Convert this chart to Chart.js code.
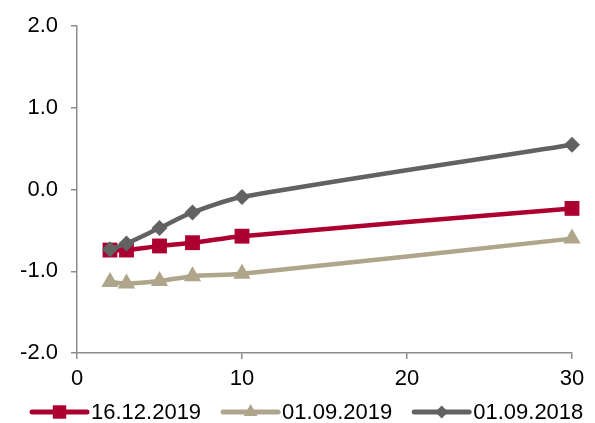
<!DOCTYPE html>
<html>
<head>
  <title>Curves</title>
  <script src="https://cdn.jsdelivr.net/npm/chart.js"></script>
  <style>
    body { margin: 0; background: #fff; }
    #wrap { width: 595px; height: 423px; }
  </style>
</head>
<body>
  <div id="wrap"><canvas id="chart" width="595" height="423"></canvas></div>

  <script>
    // maturities (x) and the three curves
    let maturities = [2, 3, 5, 7, 10, 30];
    let seriesNames = ["16.12.2019", "01.09.2019", "01.09.2018"];
    let curve2019Dec = [-0.74, -0.74, -0.69, -0.65, -0.57, -0.23];
    let curve2019Sep = [-1.13, -1.15, -1.12, -1.06, -1.03, -0.60];
    let curve2018Sep = [-0.73, -0.66, -0.47, -0.28, -0.09, 0.55];
    let xTicks = [0, 10, 20, 30];
    let yTicks = [-2, -1, 0, 1, 2];

    let fontFamily = "Arial, 'Liberation Sans', sans-serif";
    let axisColor = "#8c8c8c";

    function toPoints(values) {
      return maturities.map(function(m, i) { return { x: m, y: values[i] }; });
    }

    let styles = [
      { color: "#ab0030", pointStyle: "rect", radius: 10.5, legendRadius: 9.5, order: 1 },
      { color: "#aea58b", pointStyle: "triangle", radius: 10, legendRadius: 8, order: 2 },
      { color: "#626262", pointStyle: "rectRot", radius: 8, legendRadius: 6.5, order: 0 }
    ];
    let allValues = [curve2019Dec, curve2019Sep, curve2018Sep];

    let datasets = allValues.map(function(values, i) {
      return {
        label: seriesNames[i],
        data: toPoints(values),
        borderColor: styles[i].color,
        backgroundColor: styles[i].color,
        borderWidth: 4.5,
        pointStyle: styles[i].pointStyle,
        pointRadius: styles[i].radius,
        pointHoverRadius: styles[i].radius,
        pointBorderWidth: 0,
        tension: 0.3,
        clip: false,
        order: styles[i].order   // grey curve on top, like the original
      };
    });

    // legend with line + marker, drawn under the plot
    let lineLegend = {
      id: "lineLegend",
      afterDraw: function(chart) {
        let ctx = chart.ctx;
        let y = 412;
        let x = 32;
        ctx.save();
        ctx.font = "22px " + fontFamily;
        ctx.textBaseline = "middle";
        ctx.textAlign = "left";
        seriesNames.forEach(function(name, i) {
          let st = styles[i];
          ctx.strokeStyle = st.color;
          ctx.fillStyle = st.color;
          ctx.lineWidth = 5;
          ctx.lineCap = "round";
          ctx.beginPath();
          ctx.moveTo(x, y);
          ctx.lineTo(x + 55, y);
          ctx.stroke();
          Chart.helpers.drawPoint(ctx, { pointStyle: st.pointStyle, radius: st.legendRadius, rotation: 0, borderWidth: 0 }, x + 27.5, y);
          ctx.fillStyle = "#000";
          ctx.fillText(name, x + 59, y + 1);
          x += 59 + ctx.measureText(name).width + 22;
        });
        ctx.restore();
      }
    };

    new Chart(document.getElementById("chart"), {
      type: "line",
      data: { datasets: datasets },
      plugins: [lineLegend],
      options: {
        responsive: false,
        animation: false,
        events: [],
        layout: { padding: { top: 21, right: 23, left: 0, bottom: 30 } },
        plugins: {
          legend: { display: false },
          tooltip: { enabled: false }
        },
        scales: {
          x: {
            type: "linear",
            min: 0,
            max: 30,
            afterFit: function(scale) { scale.height = 40; },
            afterBuildTicks: function(scale) {
              scale.ticks = xTicks.map(function(v) { return { value: v }; });
            },
            ticks: {
              color: "#000",
              font: { family: fontFamily, size: 22 },
              padding: 7,
              maxRotation: 0
            },
            grid: { drawOnChartArea: false, drawTicks: true, tickLength: 6, color: axisColor, lineWidth: 1.5 },
            border: { display: true, color: axisColor, width: 1.5 }
          },
          y: {
            min: -2,
            max: 2,
            afterFit: function(scale) { scale.width = 77; },
            afterBuildTicks: function(scale) {
              scale.ticks = yTicks.map(function(v) { return { value: v }; });
            },
            ticks: {
              color: "#000",
              font: { family: fontFamily, size: 22 },
              padding: 13,
              callback: function(v) { return Number(v).toFixed(1); }
            },
            grid: { drawOnChartArea: false, drawTicks: true, tickLength: 6, color: axisColor, lineWidth: 1.5 },
            border: { display: true, color: axisColor, width: 1.5 }
          }
        }
      }
    });
  </script>
</body>
</html>
